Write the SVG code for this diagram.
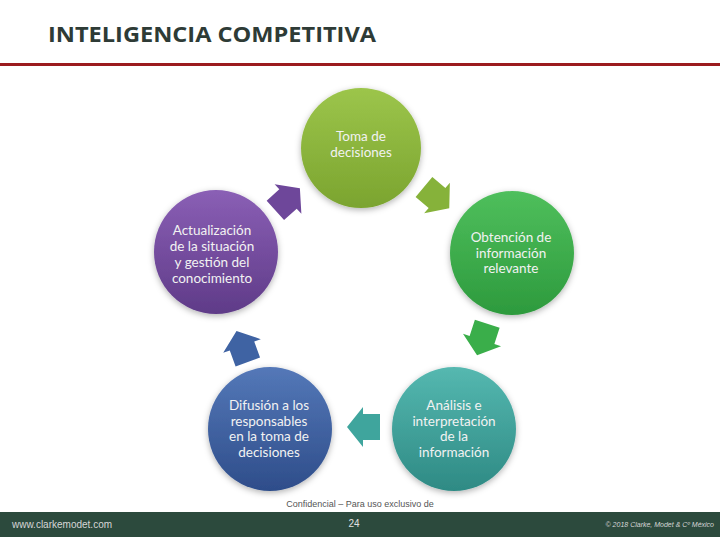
<svg xmlns="http://www.w3.org/2000/svg" width="720" height="540" viewBox="0 0 720 540">
<defs>
<linearGradient id="gTop" x1="0" y1="0" x2="0" y2="1"><stop offset="0" stop-color="#9cc54b"/><stop offset="1" stop-color="#7ba42f"/></linearGradient>
<linearGradient id="gPur" x1="0" y1="0" x2="0" y2="1"><stop offset="0" stop-color="#8a5fb5"/><stop offset="1" stop-color="#5f3b88"/></linearGradient>
<linearGradient id="gGrn" x1="0" y1="0" x2="0" y2="1"><stop offset="0" stop-color="#4fbf5c"/><stop offset="1" stop-color="#2d9a3d"/></linearGradient>
<linearGradient id="gBlu" x1="0" y1="0" x2="0" y2="1"><stop offset="0" stop-color="#5478b8"/><stop offset="1" stop-color="#2e4d8a"/></linearGradient>
<linearGradient id="gTeal" x1="0" y1="0" x2="0" y2="1"><stop offset="0" stop-color="#55b8b0"/><stop offset="1" stop-color="#2e8a84"/></linearGradient>
<filter id="sh" x="-20%" y="-20%" width="140%" height="140%"><feDropShadow dx="0" dy="2" stdDeviation="3" flood-color="#000" flood-opacity="0.3"/></filter>
<path id="arr" d="M-17,-13 H0 V-20 L16,0 L0,20 V13 H-17 Z"/>
</defs>
<style>
.t{font-family:Lato,"Open Sans",sans-serif;font-size:13.5px;fill:#f2f2f2;text-anchor:middle}
.c{filter:url(#sh)}
</style>
<rect width="720" height="540" fill="#ffffff"/>
<text x="48" y="42" font-family="'Open Sans',sans-serif" font-weight="bold" font-size="22" fill="#2e3b36" textLength="328" lengthAdjust="spacingAndGlyphs">INTELIGENCIA COMPETITIVA</text>
<rect x="0" y="63" width="720" height="3" fill="#9b1b1e"/>

<g id="connectors">
<use href="#arr" fill="#6e479a" transform="translate(288,199) rotate(-42)"/>
<use href="#arr" fill="#86b23a" transform="translate(437,198) rotate(40)"/>
<use href="#arr" fill="#3aae4a" transform="translate(482,340) rotate(108)"/>
<use href="#arr" fill="#3fa59d" transform="translate(363,427) rotate(180)"/>
<use href="#arr" fill="#3f63a3" transform="translate(242,346) rotate(250)"/>
</g>

<g id="n-toma">
<circle class="c" cx="361" cy="148" r="60" fill="url(#gTop)"/>
<text class="t" x="361" y="141">Toma de</text>
<text class="t" x="361" y="157">decisiones</text>
</g>
<g id="n-obtencion">
<circle class="c" cx="512" cy="253" r="62" fill="url(#gGrn)"/>
<text class="t" x="511" y="242">Obtención de</text>
<text class="t" x="511" y="258">información</text>
<text class="t" x="511" y="273">relevante</text>
</g>
<g id="n-analisis">
<circle class="c" cx="454" cy="429" r="62" fill="url(#gTeal)"/>
<text class="t" x="454" y="410">Análisis e</text>
<text class="t" x="454" y="426">interpretación</text>
<text class="t" x="454" y="441">de la</text>
<text class="t" x="454" y="457">información</text>
</g>
<g id="n-difusion">
<circle class="c" cx="270" cy="429" r="62" fill="url(#gBlu)"/>
<text class="t" x="269" y="410">Difusión a los</text>
<text class="t" x="269" y="426">responsables</text>
<text class="t" x="269" y="441">en la toma de</text>
<text class="t" x="269" y="457">decisiones</text>
</g>
<g id="n-actualizacion">
<circle class="c" cx="216" cy="252" r="62" fill="url(#gPur)"/>
<text class="t" x="212" y="235" font-size="14.5">Actualización</text>
<text class="t" x="212" y="251" font-size="14.5">de la situación</text>
<text class="t" x="212" y="267" font-size="14.5">y gestión del</text>
<text class="t" x="212" y="283" font-size="14.5">conocimiento</text>
</g>

<text x="360" y="507" font-family="'Liberation Sans',sans-serif" font-size="9" fill="#555" text-anchor="middle">Confidencial – Para uso exclusivo de</text>
<rect x="0" y="512" width="720" height="25" fill="#2c4a3d"/>
<text x="12" y="528" font-family="'Liberation Sans',sans-serif" font-size="10" fill="#d6d6d6">www.clarkemodet.com</text>
<text x="354" y="527" font-family="'Liberation Sans',sans-serif" font-size="10" fill="#e0e0e0" text-anchor="middle">24</text>
<text x="714" y="527" font-family="'Liberation Sans',sans-serif" font-size="7" font-style="italic" fill="#d6d6d6" text-anchor="end">© 2018 Clarke, Modet &amp; Cº México</text>
</svg>
